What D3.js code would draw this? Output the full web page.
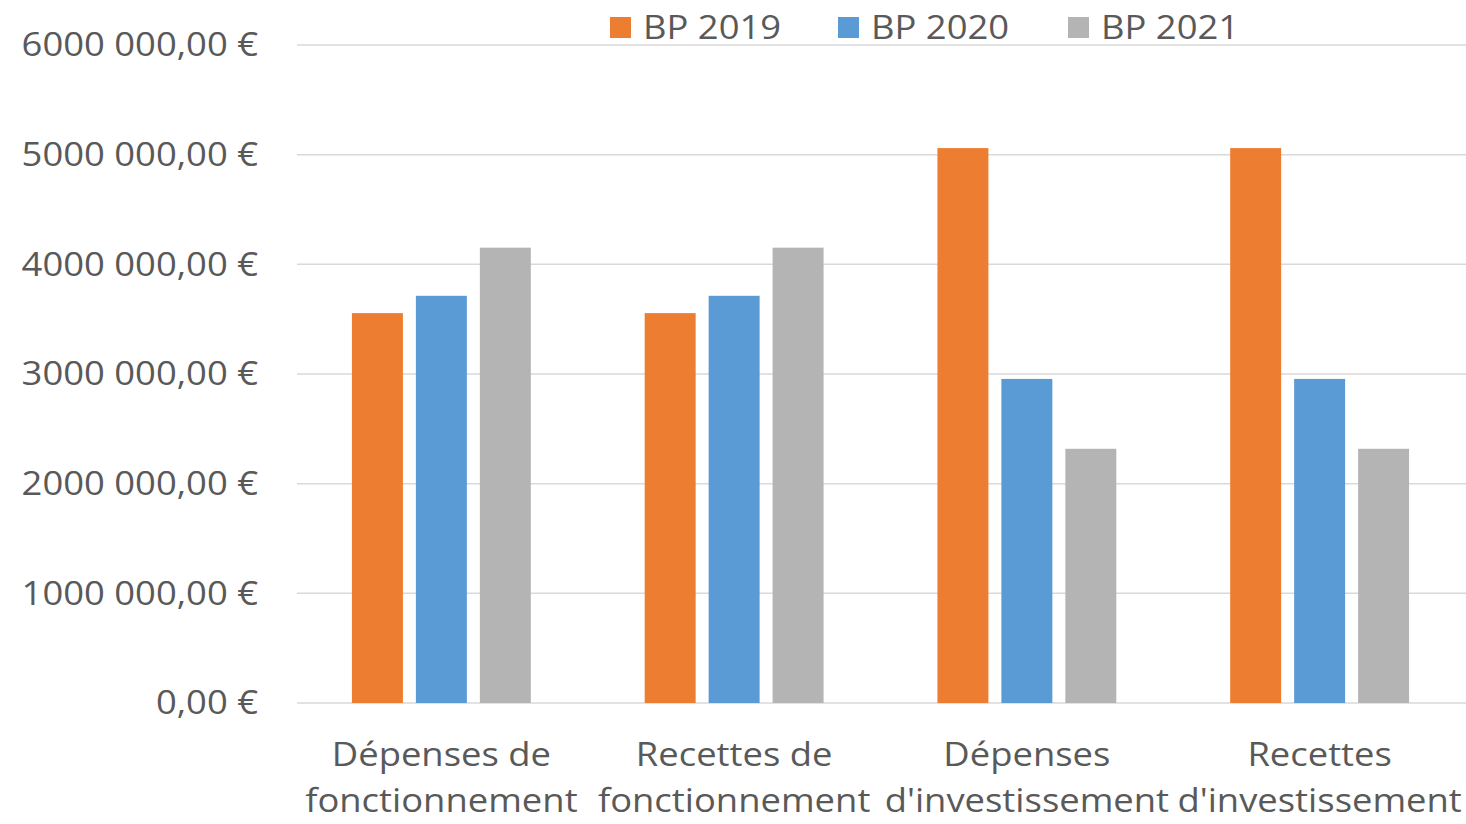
<!DOCTYPE html>
<html><head><meta charset="utf-8">
<script src="https://cdn.jsdelivr.net/npm/d3@7"></script>
<style>body{margin:0;background:#fff}svg{display:block}text{font-family:"Open Sans",sans-serif;fill:#595959}</style>
</head><body><svg id="c" width="1466" height="824"></svg>
<script>
const categories = [["Dépenses de","fonctionnement"],["Recettes de","fonctionnement"],["Dépenses","d'investissement"],["Recettes","d'investissement"]];
const series = ["BP 2019","BP 2020","BP 2021"];
const colors = ["#ED7D31","#5B9BD5","#B4B4B4"];
const bp2019 = [3555000, 3555000, 5060000, 5060000];
const bp2020 = [3713000, 3713000, 2955000, 2955000];
const bp2021 = [4152000, 4152000, 2318000, 2318000];
const yTicks = [0,1000000,2000000,3000000,4000000,5000000,6000000];
const yTickLabels = ["0,00 €","1000 000,00 €","2000 000,00 €","3000 000,00 €","4000 000,00 €","5000 000,00 €","6000 000,00 €"];

(function(){
const values = [bp2019,bp2020,bp2021];
const svg = d3.select("#c");
const pL = 295, pR = 1466, pT = 45, pB = 703;
const FS = 32.5, SX = 1.12;
const y = d3.scaleLinear().domain([0,6000000]).range([pB, pT]);
const x0 = d3.scaleBand().domain(d3.range(categories.length)).range([pL,pR]);
const x1 = d3.scaleBand().domain(series).range([0,x0.bandwidth()]).paddingInner(0.203).paddingOuter(0.89);

svg.append("g").selectAll("line").data(yTicks).join("line")
  .attr("x1",297).attr("x2",1466).attr("y1",d=>y(d)).attr("y2",d=>y(d))
  .attr("stroke","#D9D9D9").attr("stroke-width",1.5);

svg.append("g").selectAll("text").data(yTicks).join("text")
  .attr("transform",d=>`translate(258,${y(d)}) scale(${SX},1)`)
  .attr("dy","0.35em").attr("text-anchor","end")
  .attr("font-size",FS).text((d,i)=>yTickLabels[i]);

series.forEach((s,si)=>{
  svg.append("g").selectAll("rect").data(values[si]).join("rect")
    .attr("x",(d,i)=>x0(i)+x1(s)).attr("width",x1.bandwidth())
    .attr("y",d=>y(d)).attr("height",d=>y(0)-y(d)).attr("fill",colors[si]);
});

const cg = svg.append("g").selectAll("text").data(categories).join("text")
  .attr("text-anchor","middle").attr("font-size",FS)
  .attr("transform",(d,i)=>`translate(${x0(i)+x0.bandwidth()/2},0) scale(${SX},1)`);
cg.each(function(d,i){
  const t=d3.select(this);
  d.forEach((line,li)=>{
    t.append("tspan").attr("x",0).attr("y",766+li*46).text(line);
  });
});

const legX = [610,838,1068];
const lg = svg.append("g").selectAll("g").data(series).join("g");
lg.append("rect").attr("x",(d,i)=>legX[i]).attr("y",17).attr("width",21).attr("height",21).attr("fill",(d,i)=>colors[i]);
lg.append("text").attr("transform",(d,i)=>`translate(${legX[i]+33},28) scale(${SX},1)`)
  .attr("dy","0.35em").attr("font-size",FS).text(d=>d);
})();
</script></body></html>
